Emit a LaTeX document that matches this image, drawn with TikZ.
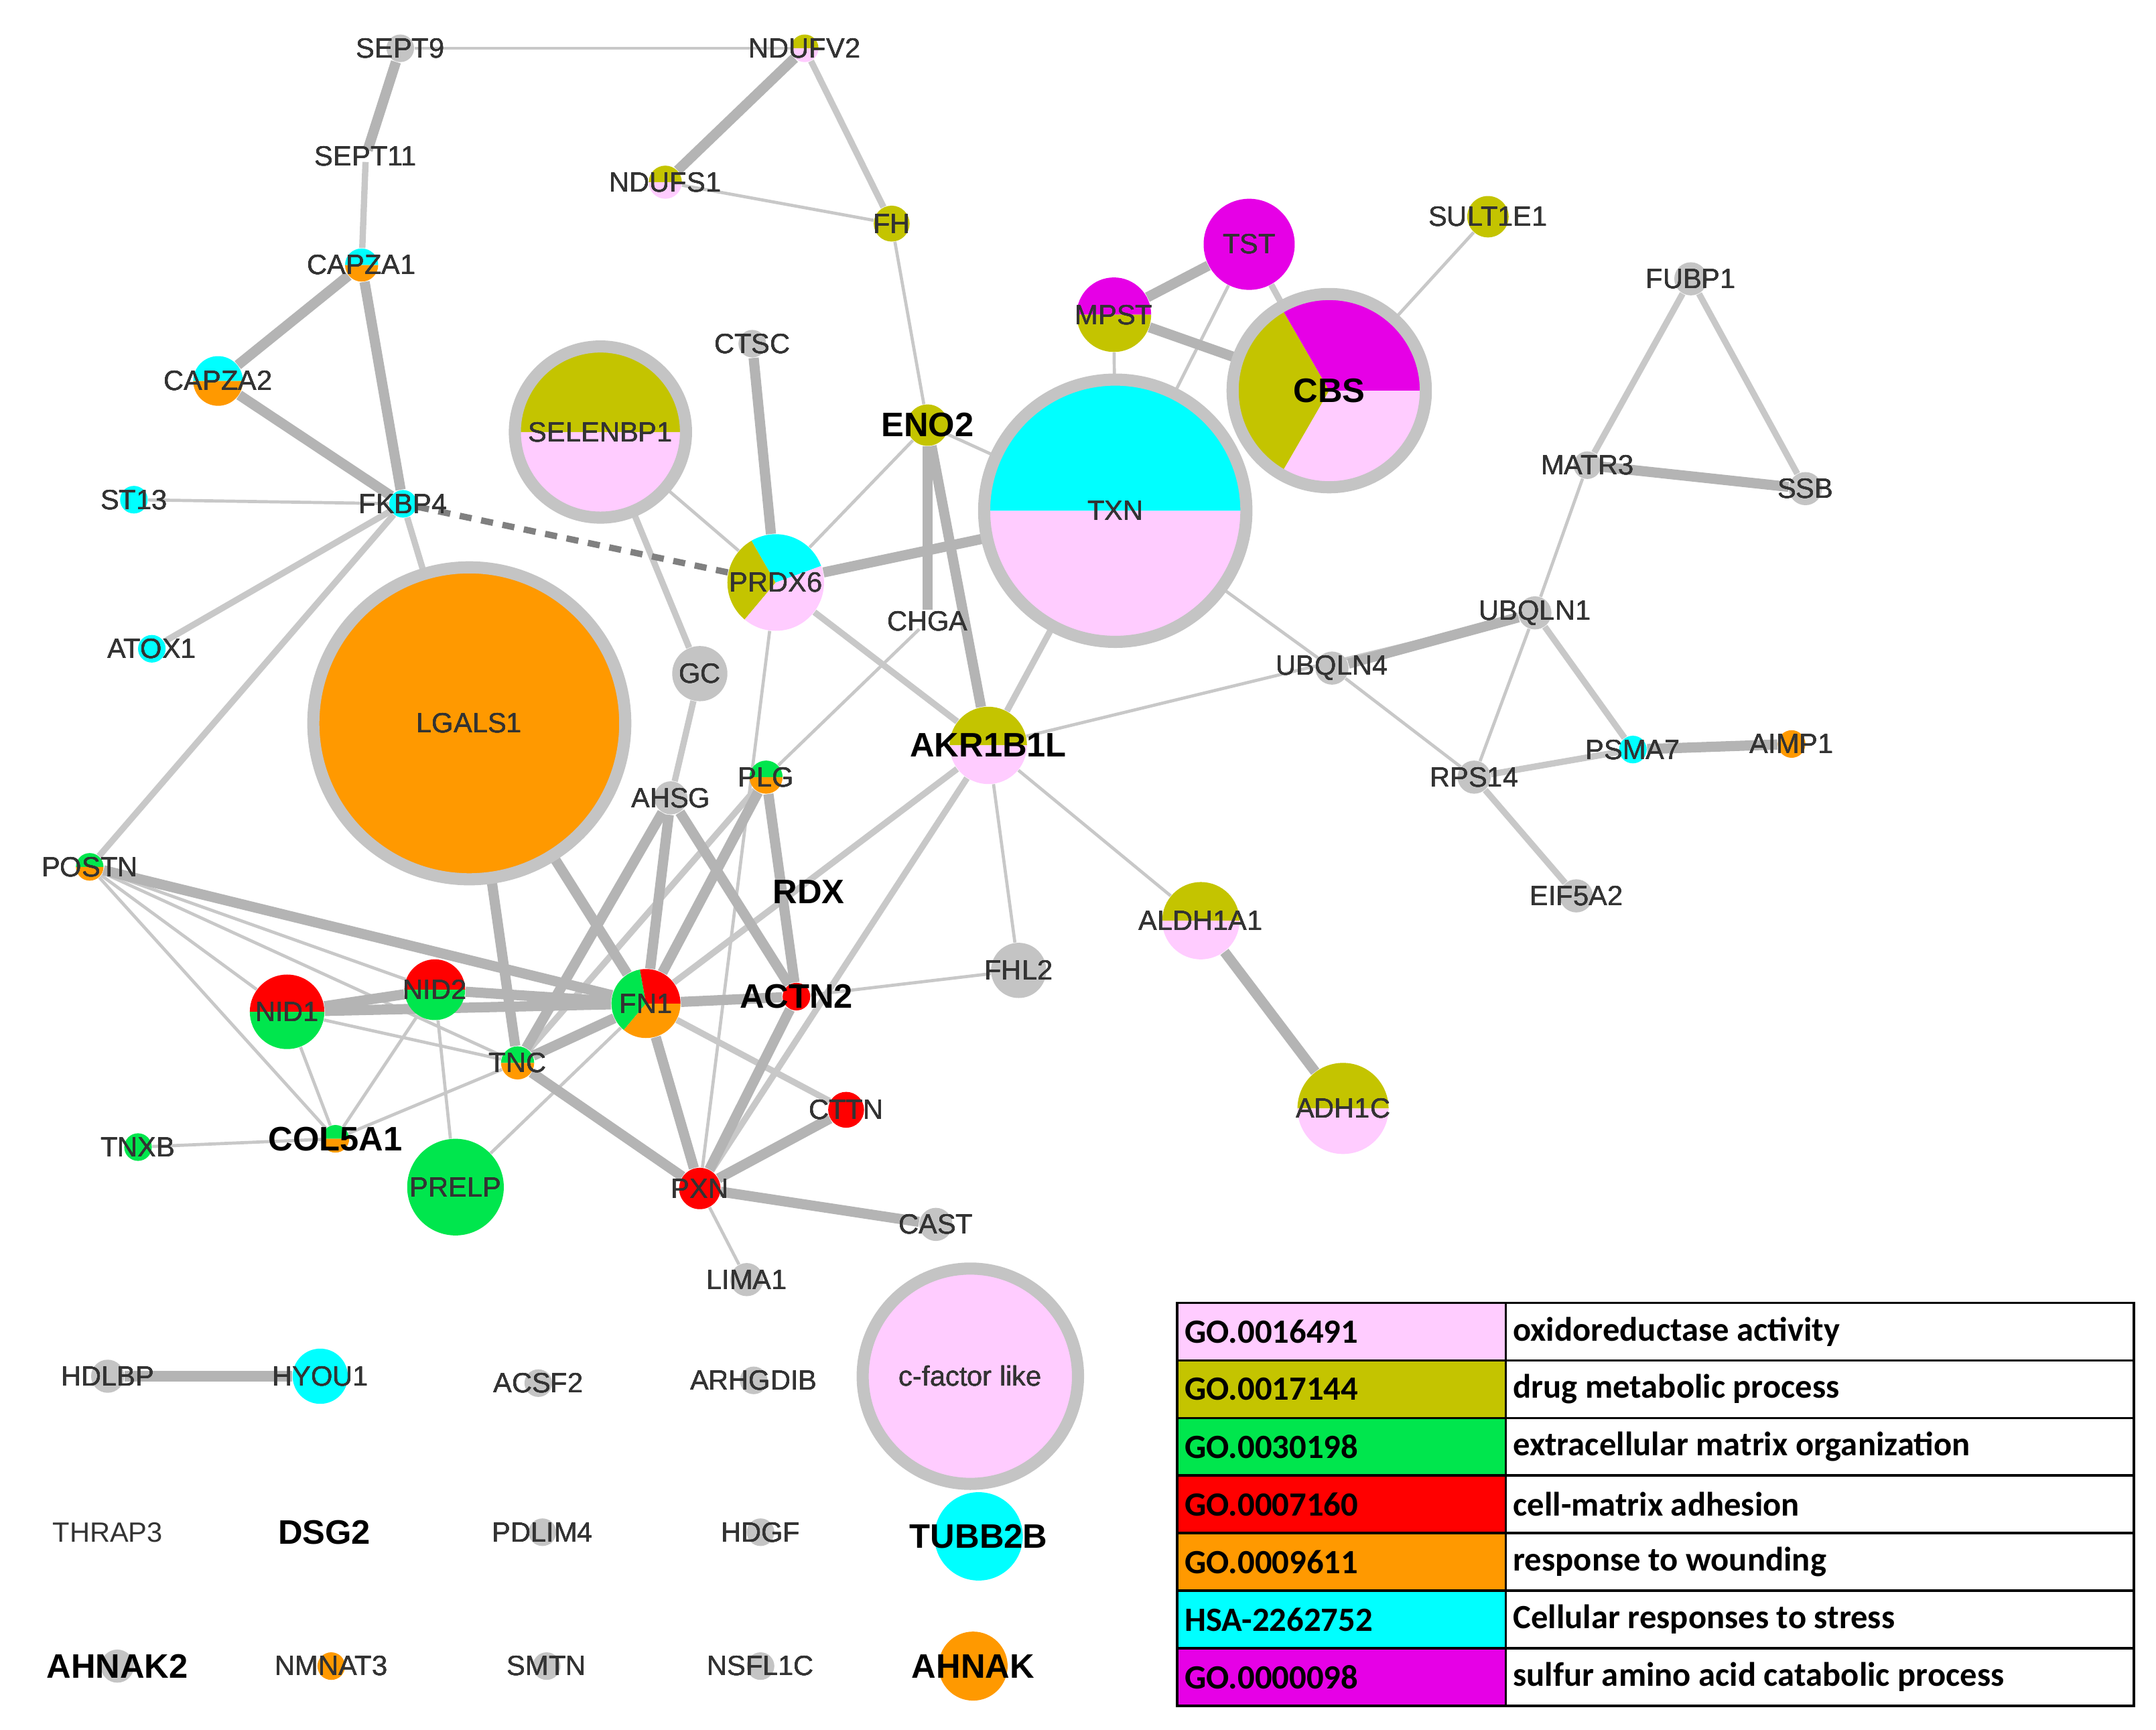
\documentclass[tikz,border=0pt]{standalone}
\usepackage{fontspec}
\setmainfont{Liberation Sans}
\newfontfamily\legfont{Carlito}
\definecolor{pk}{HTML}{FFCCFF}
\definecolor{ol}{HTML}{C4C400}
\definecolor{gr}{HTML}{00E64D}
\definecolor{rd}{HTML}{FF0000}
\definecolor{orn}{HTML}{FF9900}
\definecolor{cy}{HTML}{00FFFF}
\definecolor{mg}{HTML}{E600E6}
\definecolor{gy}{HTML}{C4C4C4}
\definecolor{eg}{HTML}{C8C8C8}
\newcommand\Nd[4]{\node[circle,minimum size=#4*0.04cm,inner sep=0pt] (#1) at (#2,#3) {};}
\newcommand\Sc[5]{\fill[#5] (#1.center) -- ++(#3:#2*0.02cm) arc[start angle=#3,end angle=#4,radius=#2*0.02cm] -- cycle;}
\newcommand\Rg[2]{\draw[gy,line width=5pt] (#1.center) circle[radius=#2*0.02cm];}
\begin{document}
\begin{tikzpicture}[x=0.02cm,y=-0.02cm,
 tn/.style={eg,line width=1.3pt},
 med/.style={eg,line width=2.6pt},
 thk/.style={eg!90!black,line width=4.2pt},
 lab/.style={font=\fontsize{11.5}{13}\selectfont,text=black!80},
 blab/.style={font=\fontsize{14}{16}\selectfont\bfseries}]
\useasboundingbox (0,0) rectangle (1562,1253);
% nodes
\Nd{SEPT9}{290}{35}{10}\Nd{NDUFV2}{583}{35}{10}\Nd{SEPT11}{265}{113}{4}
\Nd{NDUFS1}{482}{132}{12}\Nd{FH}{646}{162}{13}\Nd{CAPZA1}{262}{192}{12}
\Nd{CAPZA2}{158}{276}{18}\Nd{ST13}{97}{362}{10}\Nd{FKBP4}{292}{365}{10}
\Nd{ATOX1}{110}{470}{10}\Nd{SELENBP1}{435}{313}{62}\Nd{CTSC}{545}{249}{10}
\Nd{ENO2}{672}{308}{15}\Nd{TST}{905}{177}{33}\Nd{MPST}{807}{228}{27}
\Nd{SULT1E1}{1078}{157}{15}\Nd{CBS}{963}{283}{70}\Nd{TXN}{808}{370}{95}
\Nd{FUBP1}{1225}{202}{12}\Nd{MATR3}{1150}{337}{10}\Nd{SSB}{1308}{354}{12}
\Nd{PRDX6}{562}{422}{35}\Nd{CHGA}{672}{450}{8}\Nd{LGALS1}{340}{524}{113}
\Nd{GC}{507}{488}{20}\Nd{UBQLN1}{1112}{444}{12}\Nd{UBQLN4}{965}{484}{12}
\Nd{AKR1B1L}{716}{540}{28}\Nd{AHSG}{486}{578}{12}\Nd{PLG}{555}{563}{12}
\Nd{RPS14}{1068}{563}{12}\Nd{PSMA7}{1183}{543}{10}\Nd{AIMP1}{1298}{539}{10}
\Nd{POSTN}{65}{628}{10}\Nd{EIF5A2}{1142}{649}{12}\Nd{ALDH1A1}{870}{667}{28}
\Nd{FHL2}{738}{703}{20}\Nd{NID1}{208}{733}{27}\Nd{NID2}{315}{717}{22}
\Nd{FN1}{468}{727}{25}\Nd{ACTN2}{577}{722}{10}\Nd{TNC}{375}{770}{12}
\Nd{CTTN}{613}{804}{13}\Nd{ADH1C}{973}{803}{33}\Nd{TNXB}{100}{831}{10}
\Nd{COL5A1}{243}{825}{10}\Nd{PRELP}{330}{860}{35}\Nd{PXN}{507}{861}{15}
\Nd{CAST}{678}{887}{12}\Nd{LIMA1}{541}{927}{12}
\Nd{HDLBP}{78}{997}{12}\Nd{HYOU1}{232}{997}{20}\Nd{ACSF2}{390}{1002}{10}
\Nd{ARHGDIB}{546}{1000}{10}\Nd{CF}{703}{997}{78}\Nd{PDLIM4}{393}{1110}{10}
\Nd{HDGF}{551}{1110}{10}\Nd{TUBB2B}{709}{1113}{32}\Nd{AHNAK2}{85}{1207}{12}
\Nd{NMNAT3}{240}{1207}{10}\Nd{SMTN}{396}{1207}{10}\Nd{NSFL1C}{551}{1207}{10}
\Nd{AHNAK}{705}{1207}{25}
% edges
\foreach \a/\b in {SEPT9/NDUFV2,ST13/FKBP4,NDUFS1/FH,FH/ENO2,TST/TXN,MPST/TXN,SULT1E1/CBS,MATR3/UBQLN1,SELENBP1/PRDX6,ENO2/PRDX6,ENO2/TXN,PRDX6/PXN,CHGA/PLG,TXN/UBQLN4,UBQLN4/RPS14,UBQLN1/RPS14,AKR1B1L/UBQLN1,AKR1B1L/ALDH1A1,AKR1B1L/FHL2,POSTN/NID1,POSTN/NID2,POSTN/COL5A1,POSTN/TNC,NID1/COL5A1,NID2/COL5A1,NID1/TNC,NID2/PRELP,ACTN2/FHL2,TNC/COL5A1,TNXB/COL5A1,PRELP/FN1,PXN/LIMA1}
  \draw[tn] (\a) -- (\b);
\foreach \a/\b in {SEPT11/CAPZA1,FKBP4/ATOX1,FKBP4/POSTN,FKBP4/LGALS1,NDUFV2/FH,TST/CBS,FUBP1/MATR3,FUBP1/SSB,SELENBP1/GC,PRDX6/AKR1B1L,TXN/AKR1B1L,UBQLN1/PSMA7,RPS14/PSMA7,RPS14/EIF5A2,AKR1B1L/FN1,AKR1B1L/PXN,GC/AHSG,FN1/CTTN,TNC/PLG}
  \draw[med] (\a) -- (\b);
\foreach \a/\b in {SEPT9/SEPT11,CAPZA1/CAPZA2,CAPZA1/FKBP4,CAPZA2/FKBP4,NDUFV2/NDUFS1,TST/MPST,MPST/CBS,MATR3/SSB,CTSC/PRDX6,ENO2/CHGA,ENO2/AKR1B1L,PRDX6/TXN,UBQLN4/UBQLN1,PSMA7/AIMP1,ALDH1A1/ADH1C,AHSG/FN1,AHSG/ACTN2,AHSG/TNC,PLG/FN1,PLG/ACTN2,LGALS1/FN1,LGALS1/TNC,POSTN/FN1,NID1/NID2,NID1/FN1,NID2/FN1,FN1/TNC,FN1/PXN,FN1/ACTN2,ACTN2/PXN,TNC/PXN,PXN/CTTN,PXN/CAST,HDLBP/HYOU1}
  \draw[thk] (\a) -- (\b);
\draw[gray,line width=2.6pt,dash pattern=on 5pt off 4pt] (FKBP4) -- (PRDX6);
% fills
\foreach \n/\r in {SEPT9/10,SEPT11/0,CTSC/10,FUBP1/12,MATR3/10,SSB/12,CHGA/0,GC/20,UBQLN1/12,UBQLN4/12,AHSG/12,RPS14/12,EIF5A2/12,FHL2/20,CAST/12,LIMA1/12,HDLBP/12,ACSF2/10,ARHGDIB/10,PDLIM4/10,HDGF/10,AHNAK2/12,SMTN/10,NSFL1C/10}
  \fill[gy] (\n.center) circle[radius=\r*0.02cm];
\foreach \n/\r/\c in {FH/13/ol,ST13/10/cy,FKBP4/10/cy,ATOX1/10/cy,ENO2/15/ol,TST/33/mg,SULT1E1/15/ol,PSMA7/10/cy,AIMP1/10/orn,ACTN2/10/rd,CTTN/13/rd,TNXB/10/gr,PRELP/35/gr,PXN/15/rd,HYOU1/20/cy,TUBB2B/32/cy,NMNAT3/10/orn,AHNAK/25/orn,LGALS1/113/orn,CF/78/pk}
  \fill[\c] (\n.center) circle[radius=\r*0.02cm];
\foreach \n/\r/\t/\b in {NDUFV2/10/ol/pk,NDUFS1/12/ol/pk,CAPZA1/12/cy/orn,CAPZA2/18/cy/orn,SELENBP1/62/ol/pk,MPST/27/mg/ol,TXN/95/cy/pk,AKR1B1L/28/ol/pk,PLG/12/gr/orn,POSTN/10/gr/orn,ALDH1A1/28/ol/pk,NID1/27/rd/gr,NID2/22/rd/gr,TNC/12/gr/orn,ADH1C/33/ol/pk,COL5A1/10/gr/orn}
  {\Sc{\n}{\r}{0}{180}{\t}\Sc{\n}{\r}{180}{360}{\b}}
\Sc{CBS}{70}{120}{240}{ol}\Sc{CBS}{70}{-60}{120}{mg}\Sc{CBS}{70}{240}{360}{pk}
\Sc{PRDX6}{35}{120}{230}{ol}\Sc{PRDX6}{35}{20}{120}{cy}\Sc{PRDX6}{35}{230}{380}{pk}
\Sc{FN1}{25}{100}{230}{gr}\Sc{FN1}{25}{0}{100}{rd}\Sc{FN1}{25}{230}{360}{orn}
\foreach \n/\r in {SELENBP1/62,CBS/70,TXN/95,LGALS1/113,CF/78}
  \Rg{\n}{\r}
% labels
\foreach \n/\t in {SEPT9/SEPT9,NDUFV2/NDUFV2,SEPT11/SEPT11,NDUFS1/NDUFS1,FH/FH,CAPZA1/CAPZA1,CAPZA2/CAPZA2,ST13/ST13,FKBP4/FKBP4,ATOX1/ATOX1,SELENBP1/SELENBP1,CTSC/CTSC,TST/TST,MPST/MPST,SULT1E1/SULT1E1,TXN/TXN,FUBP1/FUBP1,MATR3/MATR3,SSB/SSB,PRDX6/PRDX6,CHGA/CHGA,LGALS1/LGALS1,GC/GC,UBQLN1/UBQLN1,UBQLN4/UBQLN4,AHSG/AHSG,PLG/PLG,RPS14/RPS14,PSMA7/PSMA7,AIMP1/AIMP1,POSTN/POSTN,EIF5A2/EIF5A2,ALDH1A1/ALDH1A1,FHL2/FHL2,NID1/NID1,NID2/NID2,FN1/FN1,TNC/TNC,CTTN/CTTN,ADH1C/ADH1C,TNXB/TNXB,PRELP/PRELP,PXN/PXN,CAST/CAST,LIMA1/LIMA1,HDLBP/HDLBP,HYOU1/HYOU1,ACSF2/ACSF2,ARHGDIB/ARHGDIB,CF/c-factor like,PDLIM4/PDLIM4,HDGF/HDGF,NMNAT3/NMNAT3,SMTN/SMTN,NSFL1C/NSFL1C}
  \node[lab] at (\n.center) {\t};
\node[lab] at (78,1110) {THRAP3};
\foreach \n/\t in {ENO2/ENO2,CBS/CBS,AKR1B1L/AKR1B1L,ACTN2/ACTN2,COL5A1/COL5A1,TUBB2B/TUBB2B,AHNAK2/AHNAK2,AHNAK/AHNAK}
  \node[blab] at (\n.center) {\t};
\node[blab] at (586,646) {RDX};
\node[blab] at (235,1110) {DSG2};
% legend
\foreach \i/\c/\g/\d in {0/pk/GO.0016491/oxidoreductase activity,1/ol/GO.0017144/drug metabolic process,2/gr/GO.0030198/extracellular matrix organization,3/rd/GO.0007160/cell-matrix adhesion,4/orn/GO.0009611/response to wounding,5/cy/HSA-2262752/Cellular responses to stress,6/mg/GO.0000098/sulfur amino acid catabolic process}{
  \node[draw=black,line width=1pt,fill=\c,minimum width=238*0.02cm,minimum height=41.7*0.02cm,anchor=north west,inner sep=0pt] (lg\i) at (852,943+\i*41.7) {};
  \node[draw=black,line width=1pt,minimum width=455*0.02cm,minimum height=41.7*0.02cm,anchor=north west,inner sep=0pt] (ld\i) at (1090,943+\i*41.7) {};
  \node[font=\legfont\bfseries\fontsize{14}{16}\selectfont,anchor=west] at (lg\i.west) {\g};
  \node[font=\legfont\bfseries\fontsize{14}{16}\selectfont,anchor=west] at (ld\i.west) {\d};
}
\end{tikzpicture}
\end{document}
